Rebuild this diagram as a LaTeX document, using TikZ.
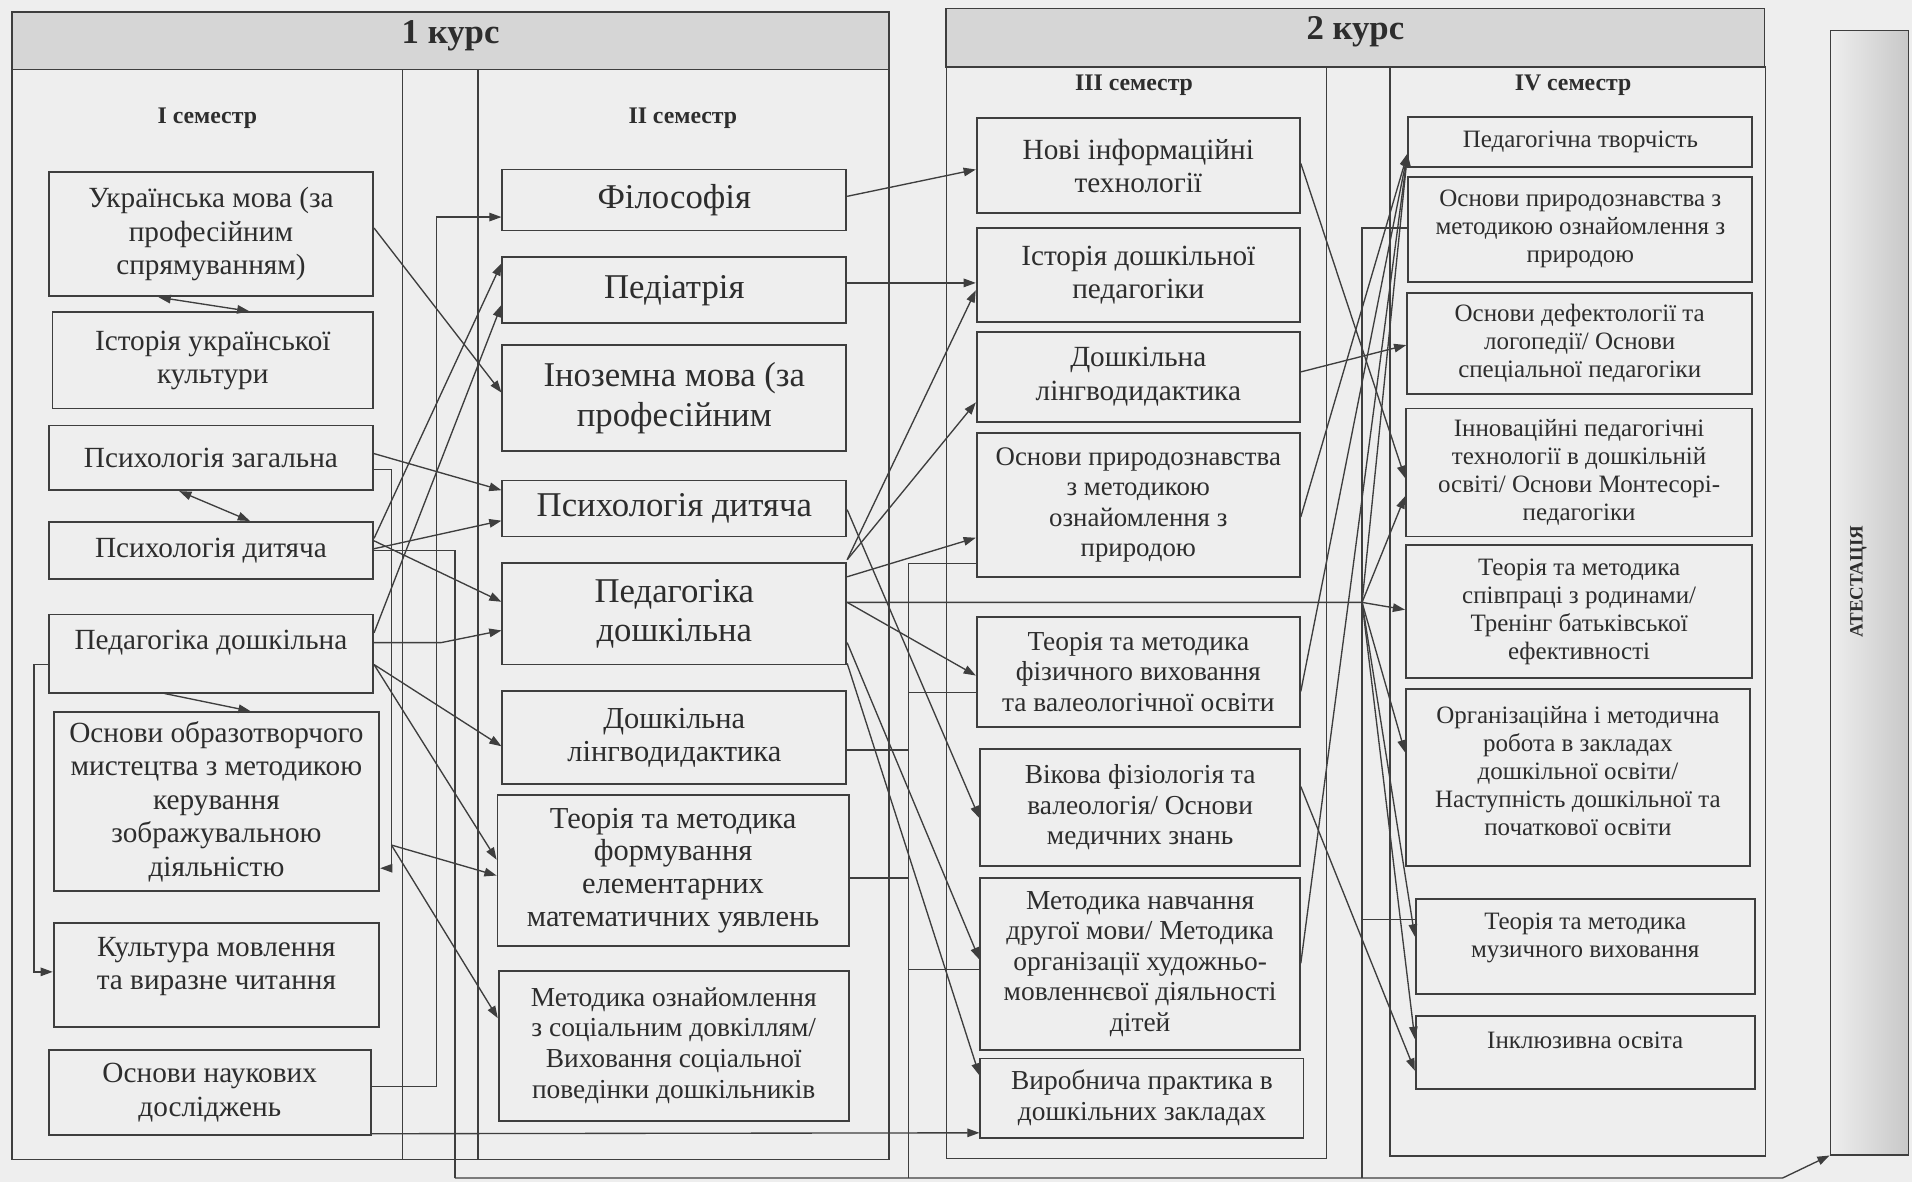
\documentclass[tikz,border=0pt]{standalone}
\usepackage{fontspec}
\setmainfont{Liberation Serif}
\usetikzlibrary{arrows.meta,calc}
\definecolor{bg}{RGB}{238,238,238}
\definecolor{hdrc}{RGB}{214,214,214}
\definecolor{ln}{RGB}{62,62,62}
\definecolor{tx}{RGB}{45,45,45}
\definecolor{atl}{RGB}{238,238,238}
\definecolor{atr}{RGB}{200,200,200}
\begin{document}
\begin{tikzpicture}[x=1pt,y=-1pt,
  box/.style={draw=ln, line width=1.5pt, inner sep=0pt, align=center, text=tx},
  lbl/.style={text=tx, align=center},
  fI/.style={font=\fontsize{24}{27.5}\selectfont},
  fIIa/.style={font=\fontsize{28.5}{32}\selectfont},
  fIIb/.style={font=\fontsize{25}{27}\selectfont},
  fIIc/.style={font=\fontsize{22.5}{25.3}\selectfont},
  fIIIa/.style={font=\fontsize{24}{27.5}\selectfont},
  fIII/.style={font=\fontsize{22.5}{25}\selectfont},
  fIV/.style={font=\fontsize{20.5}{23}\selectfont},
  hfont/.style={text=tx, font=\bfseries\fontsize{28.5}{30}\selectfont},
  sfont/.style={text=tx, font=\bfseries\fontsize{19.5}{22}\selectfont},
  hdrbox/.style={draw=ln, line width=1.3pt, fill=hdrc, inner sep=0pt},
  frame/.style={draw=ln, line width=1.2pt},
  con/.style={draw=ln, line width=1.1pt},
  arr/.style={con, -{Triangle[length=10pt,width=7pt]}},
  darr/.style={con, {Triangle[length=10pt,width=7pt]}-{Triangle[length=10pt,width=7pt]}},
]
\useasboundingbox (0,0) rectangle (1568,969);
\fill[bg] (0,0) rectangle (1568,969);

% ---------- frames ----------
\draw[frame] (10,57) rectangle (729,951);
\draw[frame] (330,57) -- (330,951);
\draw[frame] (392,57) -- (392,951);
\node[hdrbox, minimum width=719, minimum height=47, label={[hfont, yshift=4pt]center:1 курс}] (k1) at (369.5,33.5) {};

\draw[frame] (776,55) rectangle (1088,950);
\draw[frame] (1140,55) rectangle (1448,948);
\node[hdrbox, minimum width=671, minimum height=48, label={[hfont, yshift=5pt]center:2 курс}] (k2) at (1111.5,31) {};

\node[sfont] (s1) at (170,97) {I семестр};
\node[sfont] (s2) at (560,97) {II семестр};
\node[sfont] (s3) at (930,70) {III семестр};
\node[sfont] (s4) at (1290,70) {IV семестр};

\node[draw=ln, line width=1.2pt, left color=atl, right color=atr, minimum width=64, minimum height=922, inner sep=0pt] (att) at (1533,486) {};
\node[rotate=90, text=tx, font=\bfseries\fontsize{15.5}{17}\selectfont] (attt) at (1524,477) {АТЕСТАЦІЯ};

% ---------- I semester ----------
\node[box, fI, minimum width=266, minimum height=102] (u1) at (173,192) {Українська мова (за\\професійним\\спрямуванням)};
\node[box, fI, minimum width=263, minimum height=79] (u2) at (174.5,295.5) {Історія української\\культури};
\node[box, fI, minimum width=266, minimum height=53] (u3) at (173,375.5) {Психологія загальна};
\node[box, fI, minimum width=266, minimum height=47] (u4) at (173,451.5) {Психологія дитяча};
\node[box, minimum width=266, minimum height=64, label={[lbl, fI, yshift=9pt]center:Педагогіка дошкільна}] (u5) at (173,536) {};
\node[box, fI, minimum width=267, minimum height=147] (u6) at (177.5,657.5) {Основи образотворчого\\мистецтва з методикою\\керування\\зображувальною\\діяльністю};
\node[box, minimum width=267, minimum height=85, label={[lbl, fI, yshift=7pt]center:Культура мовлення\\та виразне читання}] (u7) at (177.5,799.5) {};
\node[box, fI, minimum width=264, minimum height=70] (u8) at (172,896) {Основи наукових\\досліджень};

% ---------- II semester ----------
\node[box, fIIa, minimum width=282, minimum height=50] (v1) at (553,164) {Філософія};
\node[box, fIIa, minimum width=282, minimum height=54] (v2) at (553,238) {Педіатрія};
\node[box, fIIa, minimum width=282, minimum height=87] (v3) at (553,326.5) {Іноземна мова (за\\професійним};
\node[box, fIIa, minimum width=282, minimum height=46] (v4) at (553,417) {Психологія дитяча};
\node[box, fIIa, minimum width=282, minimum height=83] (v5) at (553,503.5) {Педагогіка\\дошкільна};
\node[box, fIIb, minimum width=282, minimum height=76] (v6) at (553,605) {Дошкільна\\лінгводидактика};
\node[box, fIIb, minimum width=288, minimum height=124] (v7) at (552,714) {Теорія та методика\\формування\\елементарних\\математичних уявлень};
\node[box, fIIc, minimum width=287, minimum height=123] (v8) at (552.5,857.5) {Методика ознайомлення\\з соціальним довкіллям/\\Виховання соціальної\\поведінки дошкільників};

% ---------- III semester ----------
\node[box, fIIIa, minimum width=265, minimum height=78] (w1) at (933.5,136) {Нові інформаційні\\технології};
\node[box, fIIIa, minimum width=265, minimum height=77] (w2) at (933.5,225.5) {Історія дошкільної\\педагогіки};
\node[box, fIIIa, minimum width=265, minimum height=74] (w3) at (933.5,309) {Дошкільна\\лінгводидактика};
\node[box, font=\fontsize{22}{25}\selectfont, minimum width=265, minimum height=118] (w4) at (933.5,414) {Основи природознавства\\з методикою\\ознайомлення з\\природою};
\node[box, fIII, minimum width=265, minimum height=90] (w5) at (933.5,551) {Теорія та методика\\фізичного виховання\\та валеологічної освіти};
\node[box, fIII, minimum width=262, minimum height=96] (w6) at (935,662) {Вікова фізіологія та\\валеологія/ Основи\\медичних знань};
\node[box, fIII, minimum width=262, minimum height=141] (w7) at (935,790.5) {Методика навчання\\другої мови/ Методика\\організації художньо-\\мовленнєвої діяльності\\дітей};
\node[box, fIII, minimum width=265, minimum height=65] (w8) at (936.5,900.5) {Виробнича практика в\\дошкільних закладах};

% ---------- IV semester ----------
\node[box, fIV, minimum width=282, minimum height=41] (x1) at (1296,116.5) {Педагогічна творчість};
\node[box, fIV, minimum width=282, minimum height=86] (x2) at (1296,188) {Основи природознавства з\\методикою ознайомлення з\\природою};
\node[box, fIV, minimum width=283, minimum height=83] (x3) at (1295.5,281.5) {Основи дефектології та\\логопедії/ Основи\\спеціальної педагогіки};
\node[box, fIV, minimum width=284, minimum height=105] (x4) at (1295,387.5) {Інноваційні педагогічні\\технології в дошкільній\\освіті/ Основи Монтесорі-\\педагогіки};
\node[box, fIV, minimum width=284, minimum height=109] (x5) at (1295,501.5) {Теорія та методика\\співпраці з родинами/\\Тренінг батьківської\\ефективності};
\node[box, minimum width=282, minimum height=145, label={[lbl, fIV, yshift=5pt]center:Організаційна і методична\\робота в закладах\\дошкільної освіти/\\Наступність дошкільної та\\початкової освіти}] (x6) at (1294,637.5) {};
\node[box, minimum width=278, minimum height=78, label={[lbl, fIV, yshift=7pt]center:Теорія та методика\\музичного виховання}] (x7) at (1300,776) {};
\node[box, minimum width=278, minimum height=60, label={[lbl, fIV, yshift=10pt]center:Інклюзивна освіта}] (x8) at (1300,863) {};

% ---------- junction points ----------
\coordinate (pA) at (373,966);
\coordinate (pB) at (321,712);
\coordinate (pC) at (321,693);
\coordinate (pD) at (28,545);
\coordinate (pE) at (358,178);
\coordinate (pF) at (1117,494);
\coordinate (pG) at (745,462);
\coordinate (pH) at (745,966);
\coordinate (pJ) at (1117,966);
\coordinate (pK) at (1462,966);
\coordinate (pX) at ($(x1.west)+(0,9.5)$);

% ---------- connectors: 1 course ----------
\draw[arr] ($(u1.east)+(0,-5)$) -- ($(v3.west)+(0,-4.5)$);
\draw[darr] ($(u1.south)+(-43,0)$) -- ($(u2.north)+(30,0)$);
\draw[darr] ($(u3.south)+(-26,0)$) -- ($(u4.north)+(32,0)$);
\draw[arr] ($(u5.south)+(-38,0)$) -- ($(u6.north)+(28,0)$);
\draw[arr] ($(u3.east)+(0,-3.5)$) -- ($(v4.west)+(0,-15)$);
\draw[arr] ($(u4.east)+(0,-1.5)$) -- ($(v4.west)+(0,10)$);
\draw[arr] ($(u4.east)+(0,-8)$) -- ($(v5.west)+(0,-10)$);
\draw[arr] ($(u4.east)+(0,-10)$) -- ($(v2.west)+(0,-22)$);
\draw[con] (u4.east) -| (pA);
\draw[arr] ($(u3.east)+(0,9.5)$) -| (pB) -- ($(u6.east)+(0,54.5)$);
\draw[arr] (pC) -- ($(v7.west)+(0,4)$);
\draw[arr] (pC) -- ($(v8.west)+(0,-22.5)$);
\draw[arr] ($(u5.east)+(0,-17)$) -- ($(v2.west)+(0,12)$);
\draw[arr] ($(u5.east)+(0,-9)$) -- ++(55,0) -- ($(v5.west)+(0,13.5)$);
\draw[arr] ($(u5.east)+(0,9)$) -- ($(v6.west)+(0,7)$);
\draw[arr] ($(u5.east)+(0,9)$) -- ($(v7.west)+(0,-9)$);
\draw[arr] ($(u5.west)+(0,9)$) -- (pD) |- ($(u7.west)+(0,-2.5)$);
\draw[arr] ($(u8.east)+(0,-5)$) -| (pE) -- ($(v1.west)+(0,14)$);
\draw[arr] ($(u8.south east)+(0,-2)$) -- ($(w8.west)+(0,28.5)$);

% ---------- connectors: 1 course -> 2 course ----------
\draw[arr] ($(v1.east)+(0,-3)$) -- ($(w1.west)+(0,3)$);
\draw[arr] ($(v2.east)+(0,-6)$) -- ($(w2.west)+(0,6.5)$);
\draw[arr] ($(v5.east)+(0,-44.5)$) -- ($(w2.west)+(0,12.5)$);
\draw[arr] ($(v5.east)+(0,-44.5)$) -- ($(w3.west)+(0,21)$);
\draw[arr] ($(v5.east)+(0,-30.5)$) -- ($(w4.west)+(0,27)$);
\draw[arr] ($(v5.east)+(0,-9.5)$) -- (pF) -- ($(x5.west)+(0,-1.5)$);
\draw[arr] ($(v5.east)+(0,-9.5)$) -- ($(w5.west)+(0,3)$);
\draw[arr] ($(v5.east)+(0,23.5)$) -- ($(w7.west)+(0,-3.5)$);
\draw[arr] ($(v5.east)+(0,40.5)$) -- ($(w8.west)+(0,-18.5)$);
\draw[arr] ($(v4.east)+(0,1)$) -- ($(w6.west)+(0,9)$);
\draw[con] ($(w4.west)+(0,48)$) -- (pG) -- (pH);
\draw[con] ($(v6.east)+(0,10)$) -| (pH);
\draw[con] ($(v7.east)+(0,6)$) -| (pH);
\draw[con] (pG) |- ($(w5.west)+(0,17)$);
\draw[con] (pG) |- ($(w7.west)+(0,4.5)$);

% ---------- connectors: 2 course ----------
\draw[arr] ($(w1.east)+(0,-2)$) -- ($(x4.west)+(0,4.5)$);
\draw[arr] ($(w3.east)+(0,-4)$) -- ($(x3.west)+(0,1.5)$);
\draw[arr] ($(w4.east)+(0,10)$) -- (pX);
\draw[arr] ($(w5.east)+(0,16)$) -- (pX);
\draw[arr] ($(w7.east)+(0,-0.5)$) -- (pX);
\draw[arr] (pF) -- (pX);
\draw[arr] (pF) -- ($(x4.west)+(0,19.5)$);
\draw[arr] (pF) -- ($(x6.west)+(0,-20.5)$);
\draw[arr] (pF) -- ($(x7.west)+(0,-8)$);
\draw[arr] (pF) -- ($(x8.west)+(0,-11)$);
\draw[arr] ($(w6.east)+(0,-17)$) -- ($(x8.west)+(0,15)$);
\draw[con] ($(x2.west)+(0,-1)$) -| (pJ);
\draw[con] ($(x7.west)+(0,-22)$) -| (pJ);

% ---------- to attestation ----------
\draw[arr] (pA) -- (pK) -- (att.south west);
\end{tikzpicture}
\end{document}
